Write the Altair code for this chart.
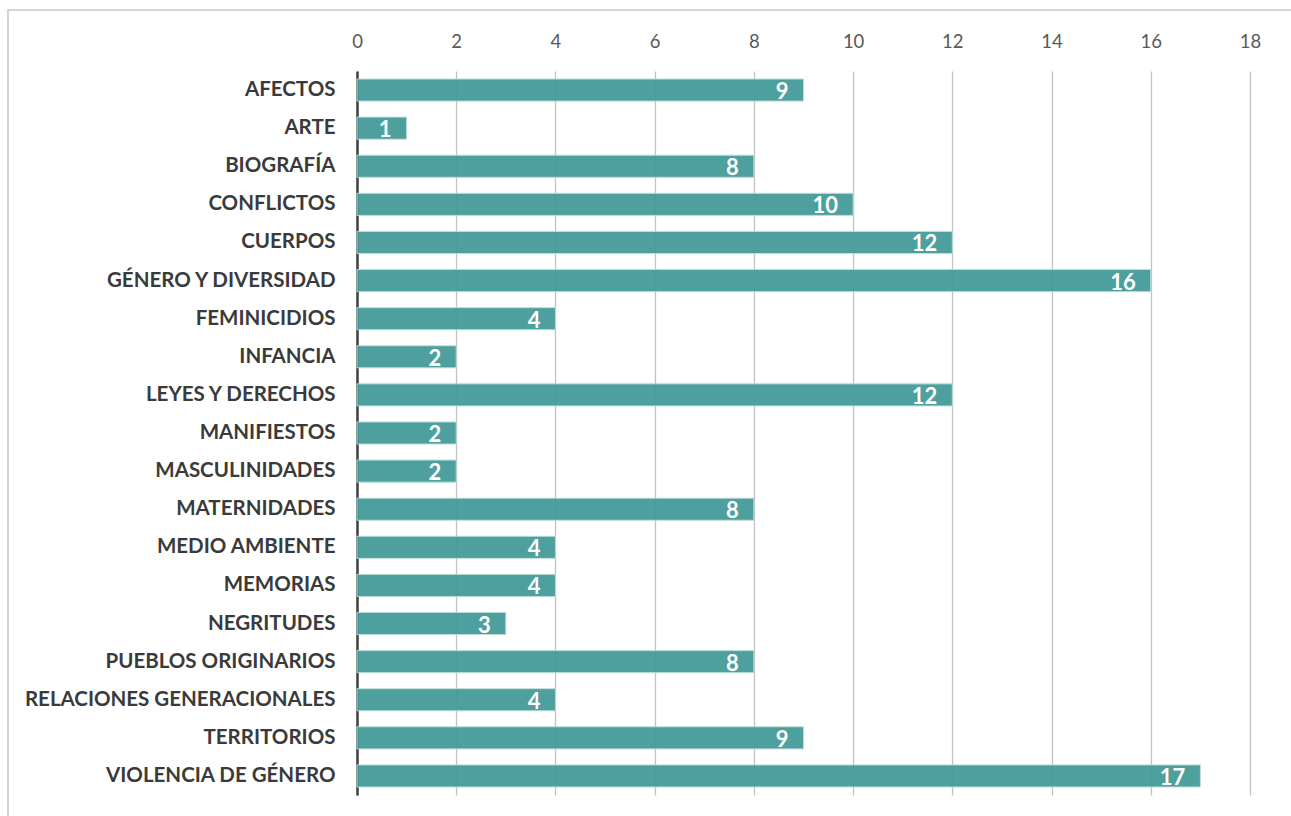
import altair as alt
import pandas as pd

categories = [
    "AFECTOS", "ARTE", "BIOGRAFÍA", "CONFLICTOS", "CUERPOS",
    "GÉNERO Y DIVERSIDAD", "FEMINICIDIOS", "INFANCIA", "LEYES Y DERECHOS",
    "MANIFIESTOS", "MASCULINIDADES", "MATERNIDADES", "MEDIO AMBIENTE",
    "MEMORIAS", "NEGRITUDES", "PUEBLOS ORIGINARIOS",
    "RELACIONES GENERACIONALES", "TERRITORIOS", "VIOLENCIA DE GÉNERO",
]
values = [9, 1, 8, 10, 12, 16, 4, 2, 12, 2, 2, 8, 4, 4, 3, 8, 4, 9, 17]
x_ticks = [0, 2, 4, 6, 8, 10, 12, 14, 16, 18]

df = pd.DataFrame({"tema": categories, "n": values})

W, H = 893, 724
FONT = "Lato"

x = alt.X("n:Q", scale=alt.Scale(domain=[0, 18], nice=False),
          axis=alt.Axis(orient="top", values=x_ticks, title=None, grid=True,
                        gridColor="#c2c2c2", gridWidth=1.3, domain=False,
                        ticks=False, labelFontSize=18.5, labelColor="#595959",
                        labelFont=FONT, labelPadding=20, labelFlush=False))
y = alt.Y("tema:N", sort=categories, scale=alt.Scale(paddingInner=0.42, paddingOuter=0.21),
          axis=alt.Axis(title=None, domain=True, domainColor="#404040",
                        domainWidth=2.5, ticks=False, labelFontSize=20.5,
                        labelFontWeight="bold", labelColor="#3a3a3a",
                        labelFont=FONT, labelPadding=22, labelLimit=0))

bars = alt.Chart(df).mark_bar(color="#3f9996", opacity=0.92, stroke="#b9dcda",
                             strokeWidth=1).encode(x=x, y=y)
labels = alt.Chart(df).mark_text(align="right", dx=-15, dy=2, color="white",
                                 fontWeight="bold", fontSize=22, font=FONT).encode(
    x="n:Q", y=alt.Y("tema:N", sort=categories), text="n:Q")

border = alt.Chart(df).mark_rect(fill=None, stroke="#d4d4d4", strokeWidth=2).encode(
    x=alt.value(-349), x2=alt.value(W + 120), y=alt.value(-61), y2=alt.value(H + 40))

chart = alt.layer(border, bars, labels).properties(
    width=W, height=H,
    autosize=alt.AutoSizeParams(type="none"),
    padding={"left": 357, "top": 71, "right": 41, "bottom": 21},
    background="white",
).configure_view(stroke=None)

chart.save("out.html", embed_options={"renderer": "svg", "actions": False})
